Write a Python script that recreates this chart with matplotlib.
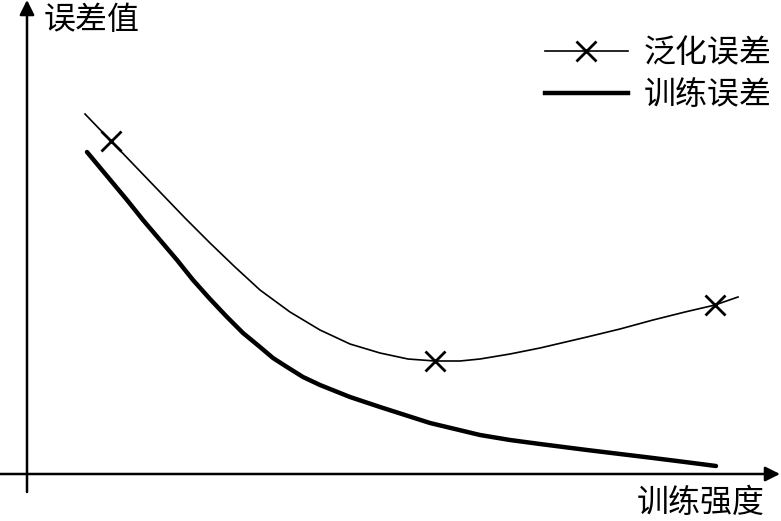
import matplotlib
matplotlib.use("Agg")
import matplotlib.pyplot as plt

plt.rcParams['font.family'] = ['Noto Sans CJK SC', 'DejaVu Sans']

# 泛化误差 (thin line)
gen_x = [58, 84, 108, 133, 158, 183, 208, 233, 263, 293, 323, 353, 381, 408,
         433, 453, 483, 513, 560, 593, 626, 658, 688, 711]
gen_y = [360, 333, 308, 282, 256, 231, 207, 184, 162, 144, 130, 121, 115, 113,
         113, 115, 120, 126, 137, 145, 154, 162, 169, 177]
# marker positions on the thin curve
mark_x = [84, 408, 688]
mark_y = [333, 113, 169]

# 训练误差 (thick line)
train_x = [60, 80, 100, 116, 133, 150, 166, 183, 200, 216, 233, 246, 260, 276,
           293, 323, 353, 378, 403, 428, 453, 483, 513, 560, 593, 626, 658, 689]
train_y = [322, 298, 274, 254, 234, 214, 194, 175, 157, 141, 127, 116, 107, 97,
           89, 77, 67, 59, 51, 45, 39, 34, 30, 24, 20, 16, 12, 8]

fig = plt.figure(figsize=(7.81, 5.21), dpi=100)
ax = fig.add_axes([0, 0, 1, 1])
ax.set_xlim(-27, 754)
ax.set_ylim(-47, 474)
ax.axis('off')

# axes with arrows
ax.annotate('', xy=(753, 0), xytext=(-27, 0),
            arrowprops=dict(arrowstyle='-|>', color='black', lw=1.8,
                            mutation_scale=22, shrinkA=0, shrinkB=0))
ax.annotate('', xy=(0, 474), xytext=(0, -18),
            arrowprops=dict(arrowstyle='-|>', color='black', lw=1.8,
                            mutation_scale=22, shrinkA=0, shrinkB=0))

ax.plot(gen_x, gen_y, color='black', lw=1.2)
ax.plot(mark_x, mark_y, ls='none', marker='x', color='black', ms=14, mew=2)
ax.plot(train_x, train_y, color='black', lw=3.2, solid_capstyle='round')

# legend handles
l1, = ax.plot([], [], color='black', lw=1.2, marker='x', ms=14, mew=2)
l2, = ax.plot([], [], color='black', lw=3.2)
ax.legend([l1, l2], ['泛化误差', '训练误差'], loc='upper right',
          bbox_to_anchor=(1.013, 0.965), frameon=False, fontsize=23,
          handlelength=2.6, handletextpad=0.5, labelspacing=0.3,
          borderaxespad=0.2, numpoints=1)

ax.text(17, 454, '误差值', fontsize=23, ha='left', va='center')
ax.text(738, -29, '训练强度', fontsize=23, ha='right', va='center')

fig.savefig('out.png', dpi=100)
